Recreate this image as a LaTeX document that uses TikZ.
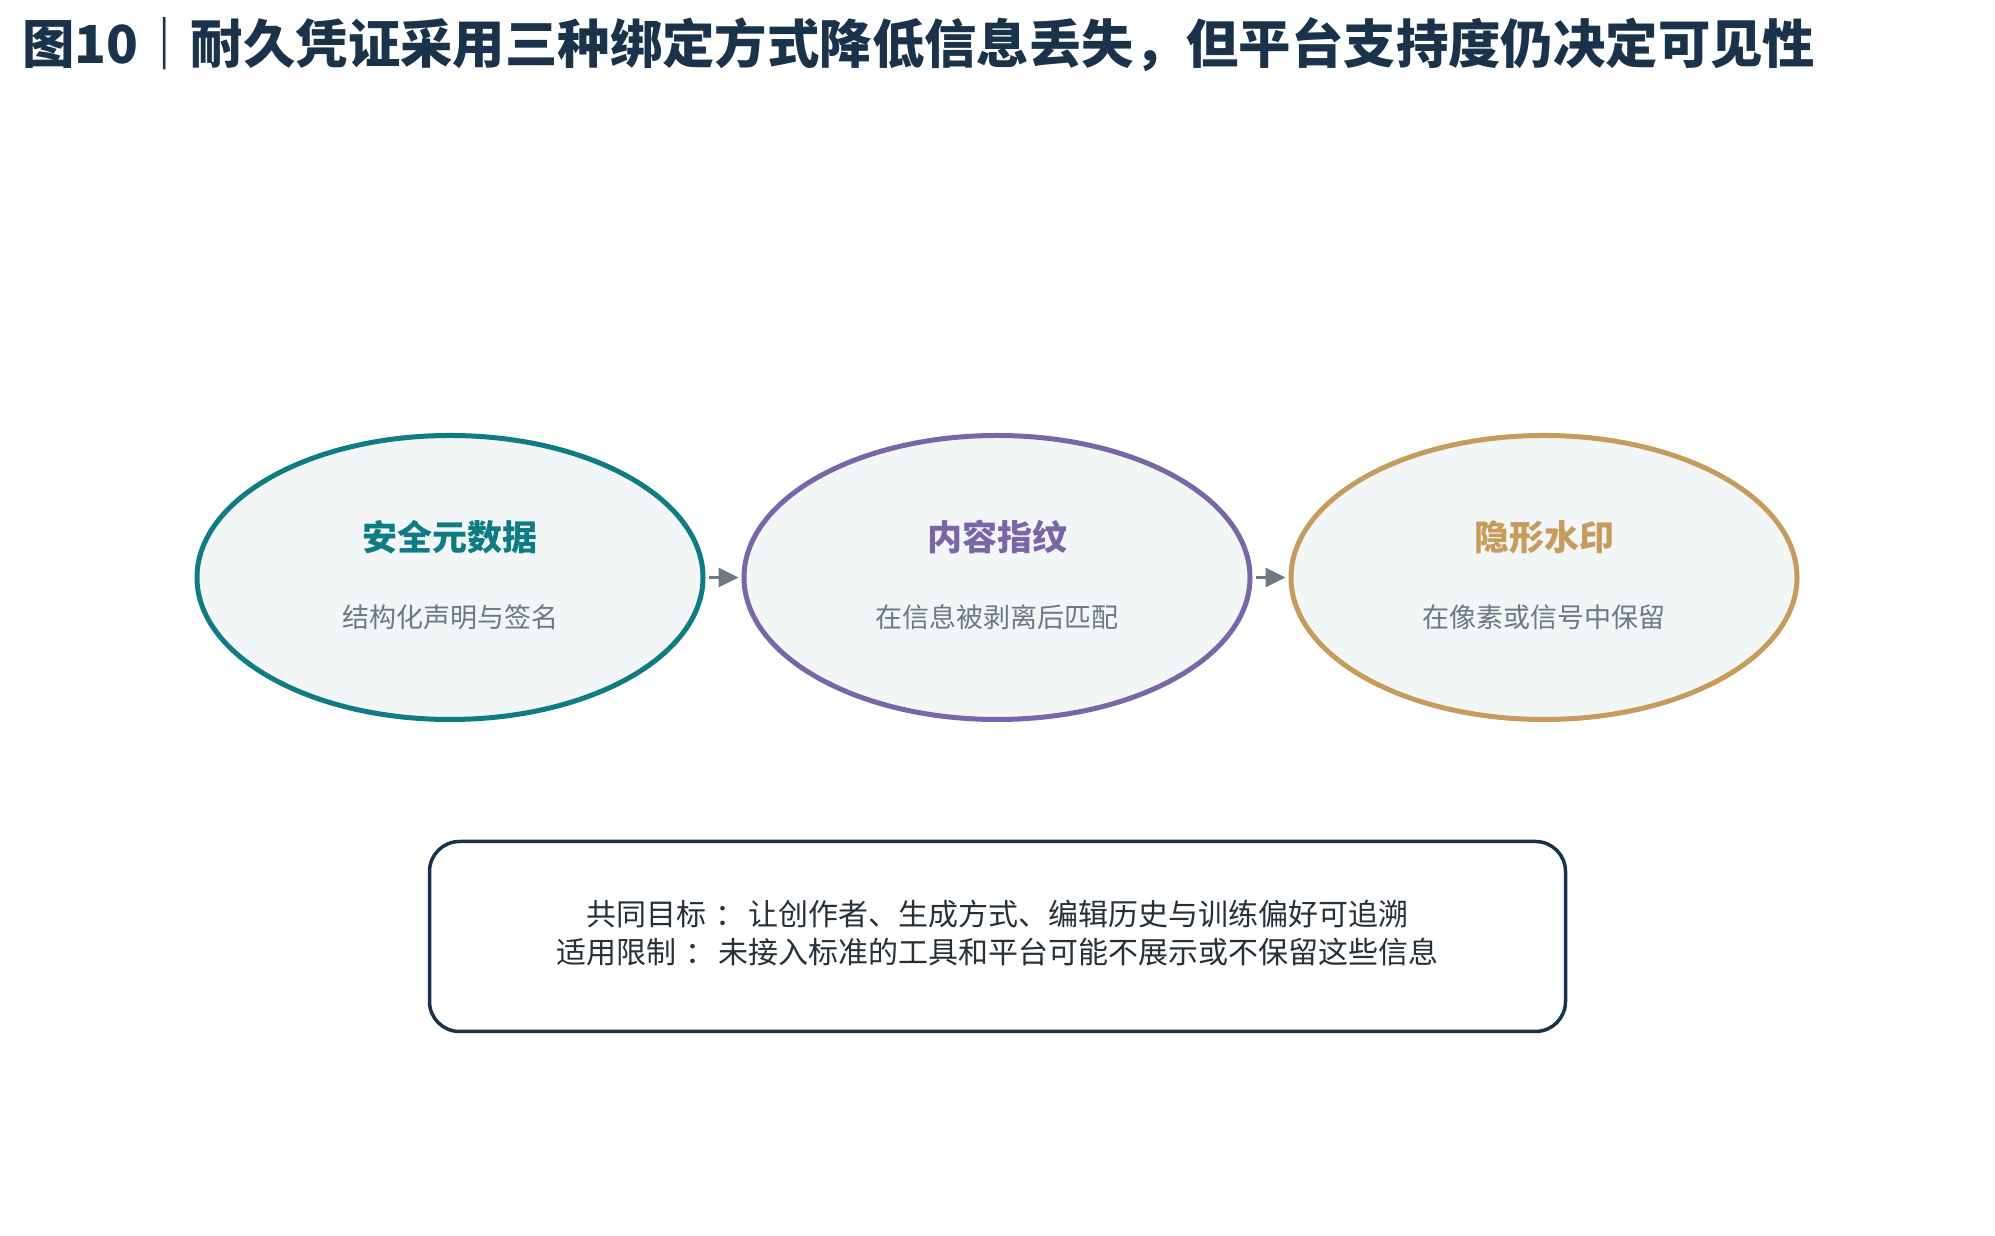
\documentclass[tikz,border=0pt]{standalone}
\usepackage{fontspec}
\setmainfont{Noto Sans CJK SC}
\usepackage{xcolor}
\usetikzlibrary{shapes, arrows.meta, positioning}

\definecolor{navy}{HTML}{1B324B}
\definecolor{tealc}{HTML}{0F7C84}
\definecolor{purplec}{HTML}{7966A9}
\definecolor{goldc}{HTML}{C69C5D}
\definecolor{ovalfill}{HTML}{F2F6F7}
\definecolor{subgray}{HTML}{6C7883}
\definecolor{arrowgray}{HTML}{6D7A84}
\definecolor{notetext}{HTML}{263038}

\begin{document}
\begin{tikzpicture}[x=1pt, y=1pt,
            oval/.style={draw, ellipse, line width=5pt, fill=ovalfill, minimum width=506pt, minimum height=284pt, inner sep=0pt},
            head/.style={font=\fontsize{35}{40}\selectfont\bfseries, inner sep=0pt},
            sub/.style={font=\fontsize{27}{32}\selectfont, text=subgray, inner sep=0pt},
            flow/.style={-{Triangle[length=20pt, width=19pt]}, line width=3pt, draw=arrowgray, shorten <=3.5pt, shorten >=3pt}]
            \fill[white] (0,0) rectangle (1995,1236);
            \node[anchor=west, inner sep=0pt, font=\fontsize{52.4}{60}\selectfont\bfseries, text=navy] (title) at (22,1191) {图10｜耐久凭证采用三种绑定方式降低信息丢失，但平台支持度仍决定可见性};

            % three binding methods
            \node[oval, draw=tealc] (meta) at (450,658.5) {};
            \node[oval, draw=purplec] (finger) at (997,658.5) {};
            \node[oval, draw=goldc] (mark) at (1544,658.5) {};

            \node[head, text=tealc] (metaT) at ([yshift=40pt]meta.center) {安全元数据};
            \node[sub] (metaS) at ([yshift=-40pt]meta.center) {结构化声明与签名};
            \node[head, text=purplec] (fingerT) at ([yshift=40pt]finger.center) {内容指纹};
            \node[sub] (fingerS) at ([yshift=-40pt]finger.center) {在信息被剥离后匹配};
            \node[head, text=goldc] (markT) at ([yshift=40pt]mark.center) {隐形水印};
            \node[sub] (markS) at ([yshift=-40pt]mark.center) {在像素或信号中保留};

            \draw[flow] (meta) -- (finger);
            \draw[flow] (finger) -- (mark);

            % note box
            \node[draw=navy, line width=3.5pt, rounded corners=30pt, fill=white, minimum width=1136pt, minimum height=190pt] (note) at (997.5,299.5) {};
            \node[align=center, inner sep=0pt, text=notetext, font=\fontsize{30}{38}\selectfont] (noteT) at (997.5,303) {共同目标\kern10pt：\kern3pt 让创作者、生成方式、编辑历史与训练偏好可追溯\\适用限制\kern10pt：\kern3pt 未接入标准的工具和平台可能不展示或不保留这些信息};
        \end{tikzpicture}
\end{document}
